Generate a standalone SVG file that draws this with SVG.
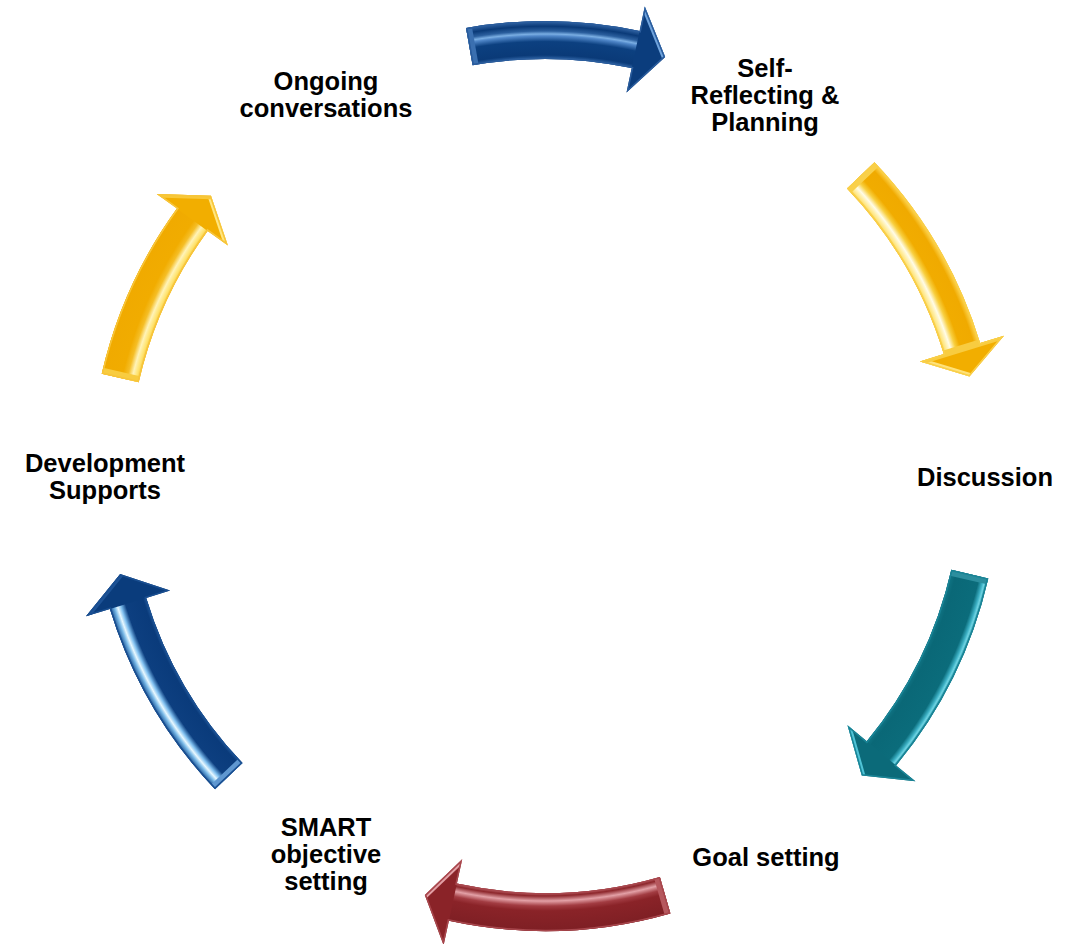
<svg xmlns="http://www.w3.org/2000/svg" xmlns:xlink="http://www.w3.org/1999/xlink" width="1086" height="944" viewBox="0 0 1086 944">
  <style>
    .lbl { font-family: "Liberation Sans", Arial, sans-serif; font-weight: bold; font-size: 25.5px; fill: #000; text-anchor: middle; }
    .edge { fill: none; stroke-width: 3; }
    .tail { stroke-width: 12; fill: none; }
    .headhi { stroke-width: 7; fill: none; }
  </style>
  <defs>
    <!-- full arrow outlines (arc body + straight-sided head), all on a ring centred at 545,476 -->
    <path id="p1" d="M466.0,27.9 A455,455 0 0 1 639.6,30.9 L644.8,6.5 L665.2,56.9 L626.5,92.6 L631.7,68.1 A417,417 0 0 0 472.6,65.3 Z"/>
    <path id="p2" d="M874.5,162.2 A455,455 0 0 1 980.1,343.0 L1004.0,335.7 L969.5,376.4 L919.9,361.4 L943.8,354.1 A417,417 0 0 0 847.0,188.4 Z"/>
    <path id="p3" d="M988.3,578.4 A455,455 0 0 1 896.1,765.4 L915.4,781.3 L861.8,775.6 L847.5,725.3 L866.8,741.3 A417,417 0 0 0 951.3,569.8 Z"/>
    <path id="p4" d="M670.4,913.4 A455,455 0 0 1 448.9,920.7 L443.6,945.2 L424.8,895.1 L462.2,859.2 L456.9,883.6 A417,417 0 0 0 659.9,876.9 Z"/>
    <path id="p5" d="M215.0,789.2 A455,455 0 0 1 109.9,609.0 L86.0,616.3 L120.2,574.1 L170.1,590.6 L146.2,597.9 A417,417 0 0 0 242.5,763.1 Z"/>
    <path id="p6" d="M101.7,373.7 A455,455 0 0 1 176.9,208.6 L156.7,193.9 L211.0,195.7 L227.9,245.6 L207.6,230.9 A417,417 0 0 0 138.7,382.2 Z"/>

    <clipPath id="c1"><use xlink:href="#p1"/></clipPath>
    <clipPath id="c2"><use xlink:href="#p2"/></clipPath>
    <clipPath id="c3"><use xlink:href="#p3"/></clipPath>
    <clipPath id="c4"><use xlink:href="#p4"/></clipPath>
    <clipPath id="c5"><use xlink:href="#p5"/></clipPath>
    <clipPath id="c6"><use xlink:href="#p6"/></clipPath>

    <!-- ring-following shading: offset = radius / 480 -->
    <radialGradient id="g1" gradientUnits="userSpaceOnUse" cx="545" cy="476" r="480">
      <stop offset="0.86875" stop-color="#2D62A3"/>
      <stop offset="0.877" stop-color="#0A3A78"/>
      <stop offset="0.905" stop-color="#0C4080"/>
      <stop offset="0.9167" stop-color="#4F86C8"/>
      <stop offset="0.9208" stop-color="#7AAEE3"/>
      <stop offset="0.927" stop-color="#2B5F9E"/>
      <stop offset="0.937" stop-color="#0A3A78"/>
      <stop offset="0.9479" stop-color="#3366A6"/>
    </radialGradient>
    <radialGradient id="g2" gradientUnits="userSpaceOnUse" cx="545" cy="476" r="480">
      <stop offset="0.86875" stop-color="#F7C53A"/>
      <stop offset="0.874" stop-color="#FFE680"/>
      <stop offset="0.8854" stop-color="#FFFCE8"/>
      <stop offset="0.896" stop-color="#F8CF3F"/>
      <stop offset="0.906" stop-color="#F1AC00"/>
      <stop offset="0.935" stop-color="#F0AA00"/>
      <stop offset="0.9479" stop-color="#FFD95A"/>
    </radialGradient>
    <radialGradient id="g3" gradientUnits="userSpaceOnUse" cx="545" cy="476" r="480">
      <stop offset="0.86875" stop-color="#117585"/>
      <stop offset="0.88" stop-color="#0A6877"/>
      <stop offset="0.929" stop-color="#0B6C7B"/>
      <stop offset="0.9375" stop-color="#3BAFC3"/>
      <stop offset="0.9417" stop-color="#6ED3E2"/>
      <stop offset="0.9479" stop-color="#1E8C9E"/>
    </radialGradient>
    <radialGradient id="g4" gradientUnits="userSpaceOnUse" cx="545" cy="476" r="480">
      <stop offset="0.86875" stop-color="#B0545A"/>
      <stop offset="0.875" stop-color="#8E282D"/>
      <stop offset="0.8854" stop-color="#E3A0A6"/>
      <stop offset="0.896" stop-color="#A23C42"/>
      <stop offset="0.906" stop-color="#8A2328"/>
      <stop offset="0.9479" stop-color="#7E1F24"/>
    </radialGradient>
    <radialGradient id="g5" gradientUnits="userSpaceOnUse" cx="545" cy="476" r="480">
      <stop offset="0.86875" stop-color="#1F5597"/>
      <stop offset="0.876" stop-color="#0A3B7B"/>
      <stop offset="0.914" stop-color="#0D3F80"/>
      <stop offset="0.924" stop-color="#7FBFEF"/>
      <stop offset="0.931" stop-color="#E8F8FF"/>
      <stop offset="0.9375" stop-color="#7ABAE8"/>
      <stop offset="0.9479" stop-color="#154C8E"/>
    </radialGradient>
    <radialGradient id="g6" gradientUnits="userSpaceOnUse" cx="545" cy="476" r="480">
      <stop offset="0.86875" stop-color="#F6C43A"/>
      <stop offset="0.875" stop-color="#FFE36E"/>
      <stop offset="0.884" stop-color="#FFF3B8"/>
      <stop offset="0.894" stop-color="#F5BE26"/>
      <stop offset="0.905" stop-color="#F1AC00"/>
      <stop offset="0.9479" stop-color="#F0AA00"/>
    </radialGradient>
  </defs>

  <!-- curved block arrows running clockwise between the stages -->
  <g id="connectors">
    <g id="arrow-1">
      <use xlink:href="#p1" fill="#0B3D7D"/>
      <path d="M466.0,27.9 A455,455 0 0 1 639.6,30.9 L631.7,68.1 A417,417 0 0 0 472.6,65.3 Z" fill="url(#g1)"/>
      <g clip-path="url(#c1)">
        <line class="tail" x1="466.0" y1="27.9" x2="472.6" y2="65.3" stroke="#3A6FB0"/>
        <line class="headhi" x1="644.8" y1="6.5" x2="665.2" y2="56.9" stroke="#6FA3DC"/>
        <use xlink:href="#p1" class="edge" stroke="#2A5C9C"/>
      </g>
    </g>
    <g id="arrow-2">
      <use xlink:href="#p2" fill="#F2AE00"/>
      <path d="M874.5,162.2 A455,455 0 0 1 980.1,343.0 L943.8,354.1 A417,417 0 0 0 847.0,188.4 Z" fill="url(#g2)"/>
      <g clip-path="url(#c2)">
        <line class="tail" x1="874.5" y1="162.2" x2="847.0" y2="188.4" stroke="#F9D04A"/>
        <line class="headhi" x1="919.9" y1="361.4" x2="969.5" y2="376.4" stroke="#FFE27A"/>
        <line class="headhi" x1="1004.0" y1="335.7" x2="919.9" y2="361.4" stroke="#F8CC40"/>
        <use xlink:href="#p2" class="edge" stroke="#F9CF48"/>
      </g>
    </g>
    <g id="arrow-3">
      <use xlink:href="#p3" fill="#0B6A79"/>
      <path d="M988.3,578.4 A455,455 0 0 1 896.1,765.4 L866.8,741.3 A417,417 0 0 0 951.3,569.8 Z" fill="url(#g3)"/>
      <g clip-path="url(#c3)">
        <line class="tail" x1="988.3" y1="578.4" x2="951.3" y2="569.8" stroke="#2C8E9E"/>
        <line class="headhi" x1="847.5" y1="725.3" x2="861.8" y2="775.6" stroke="#4FC3D6"/>
        <use xlink:href="#p3" class="edge" stroke="#1A8496"/>
      </g>
    </g>
    <g id="arrow-4">
      <use xlink:href="#p4" fill="#8A2328"/>
      <path d="M670.4,913.4 A455,455 0 0 1 448.9,920.7 L456.9,883.6 A417,417 0 0 0 659.9,876.9 Z" fill="url(#g4)"/>
      <g clip-path="url(#c4)">
        <line class="tail" x1="670.4" y1="913.4" x2="659.9" y2="876.9" stroke="#B6585E"/>
        <line class="headhi" x1="462.2" y1="859.2" x2="424.8" y2="895.1" stroke="#E3A0A6"/>
        <use xlink:href="#p4" class="edge" stroke="#A8474D"/>
      </g>
    </g>
    <g id="arrow-5">
      <use xlink:href="#p5" fill="#0A3C7C"/>
      <path d="M215.0,789.2 A455,455 0 0 1 109.9,609.0 L146.2,597.9 A417,417 0 0 0 242.5,763.1 Z" fill="url(#g5)"/>
      <g clip-path="url(#c5)">
        <line class="tail" x1="215.0" y1="789.2" x2="242.5" y2="763.1" stroke="#5F97D0"/>
        <line class="headhi" x1="86.0" y1="616.3" x2="120.2" y2="574.1" stroke="#1D5295"/>
        <use xlink:href="#p5" class="edge" stroke="#1A4F91"/>
      </g>
    </g>
    <g id="arrow-6">
      <use xlink:href="#p6" fill="#F2AE00"/>
      <path d="M101.7,373.7 A455,455 0 0 1 176.9,208.6 L207.6,230.9 A417,417 0 0 0 138.7,382.2 Z" fill="url(#g6)"/>
      <g clip-path="url(#c6)">
        <line class="tail" x1="101.7" y1="373.7" x2="138.7" y2="382.2" stroke="#F8CC40"/>
        <line class="headhi" x1="211.0" y1="195.7" x2="227.9" y2="245.6" stroke="#FFE680"/>
        <line class="headhi" x1="156.7" y1="193.9" x2="211.0" y2="195.7" stroke="#F8C838"/>
        <use xlink:href="#p6" class="edge" stroke="#F7C53A"/>
      </g>
    </g>
  </g>

  <!-- stage labels -->
  <g id="node-self-reflecting">
    <text class="lbl" x="765" y="77.3">Self-</text>
    <text class="lbl" x="765" y="104.3">Reflecting &amp;</text>
    <text class="lbl" x="765" y="131.3">Planning</text>
  </g>
  <g id="node-discussion">
    <text class="lbl" x="985" y="486">Discussion</text>
  </g>
  <g id="node-goal-setting">
    <text class="lbl" x="766" y="866">Goal setting</text>
  </g>
  <g id="node-smart">
    <text class="lbl" x="326" y="835.5">SMART</text>
    <text class="lbl" x="326" y="862.5">objective</text>
    <text class="lbl" x="326" y="889.5">setting</text>
  </g>
  <g id="node-development">
    <text class="lbl" x="105" y="471.5">Development</text>
    <text class="lbl" x="105" y="498.5">Supports</text>
  </g>
  <g id="node-ongoing">
    <text class="lbl" x="326" y="90.2">Ongoing</text>
    <text class="lbl" x="326" y="117.2">conversations</text>
  </g>
</svg>
